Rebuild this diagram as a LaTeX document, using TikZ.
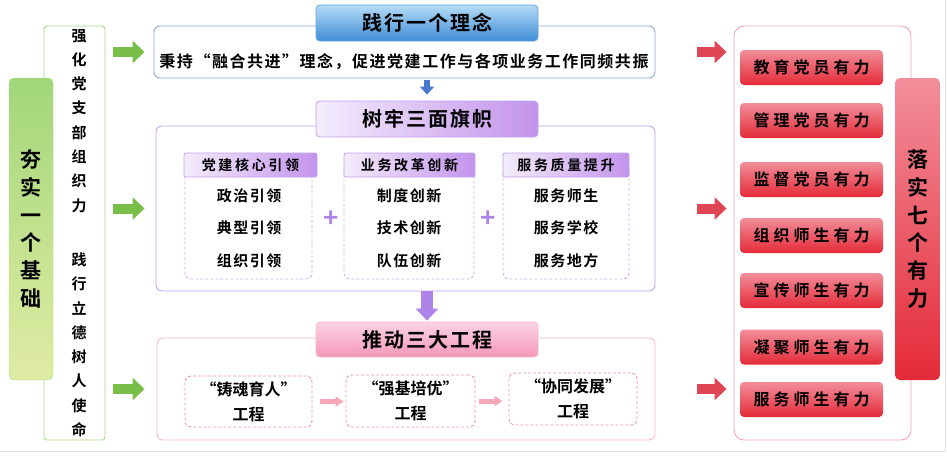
\documentclass[tikz,border=0pt]{standalone}
\usepackage{fontspec}
\setmainfont{Noto Sans CJK SC}
\newfontfamily\kai{Noto Sans CJK SC Bold}
\usetikzlibrary{arrows.meta}

\definecolor{greenline}{HTML}{A6DA86}
\definecolor{greentop}{HTML}{A2D67A}
\definecolor{greenbot}{HTML}{E0ECA4}
\definecolor{greenarrow}{HTML}{79BE48}
\definecolor{bluetop}{HTML}{B6DCF7}
\definecolor{bluebot}{HTML}{3E8CD6}
\definecolor{blueline}{HTML}{8EA8DA}
\definecolor{bluearrow}{HTML}{4779CC}
\definecolor{purpleleft}{HTML}{F4ECFC}
\definecolor{purpleright}{HTML}{C393EC}
\definecolor{purpleline}{HTML}{C1A2F0}
\definecolor{purplearrow}{HTML}{AE84EA}
\definecolor{dashpurple}{HTML}{D7AEF0}
\definecolor{pinktop}{HTML}{FBD3E4}
\definecolor{pinkbot}{HTML}{F497B9}
\definecolor{pinkline}{HTML}{F8BACA}
\definecolor{dashpink}{HTML}{F494AA}
\definecolor{pinkarrow}{HTML}{F6A8B8}
\definecolor{redtop}{HTML}{F28E9A}
\definecolor{redbot}{HTML}{E42A38}
\definecolor{redline}{HTML}{F6A4B0}
\definecolor{redarrow}{HTML}{DE4656}
\definecolor{framegray}{HTML}{E2E2E2}

\tikzset{
  header/.style={rectangle, rounded corners=4pt, minimum width=222, minimum height=36, line width=0.8pt,
    font={\kai\fontsize{20}{24}\selectfont\addfontfeature{LetterSpace=10}}},
  section/.style={rectangle, rounded corners=6pt, draw, line width=0.9pt, fill=white},
  subhead/.style={rectangle, rounded corners=2pt, minimum width=133, minimum height=24, draw=purpleline,
    line width=0.8pt, left color=purpleleft, right color=purpleright,
    font={\kai\fontsize{14}{16}\selectfont\addfontfeature{LetterSpace=19}}},
  dashbox/.style={rectangle, rounded corners=6pt, draw, line width=0.9pt, dash pattern=on 3pt off 2pt},
  item/.style={align=center, font={\kai\fontsize{15}{32.5}\selectfont\addfontfeature{LetterSpace=10}}},
  reditem/.style={rectangle, rounded corners=4pt, minimum width=143, minimum height=35,
    top color=redtop, bottom color=redbot,
    font={\kai\fontsize{16}{18}\selectfont\addfontfeature{LetterSpace=25}}},
  vtext/.style={align=center, font={\kai\fontsize{21}{27.8}\selectfont}},
  fatarrow/.style={line width=10pt, -{Triangle[width=22pt,length=12pt]}},
}

\begin{document}
\begin{tikzpicture}[x=1pt, y=-1pt]
  \useasboundingbox (0,0) rectangle (947,458);
  \draw[framegray] (0,451) -- (945,451) -- (945,0);

  % left side
  \node at (74.5,233) [rectangle, rounded corners=3pt, draw=greenline, line width=0.9pt, fill=white,
    minimum width=61, minimum height=414] (lbox) {};
  \node at (79,233) [align=center, font={\kai\fontsize{15}{24.3}\selectfont}] (ltext)
    {强\\化\\党\\支\\部\\组\\织\\力\\[30pt]践\\行\\立\\德\\树\\人\\使\\命};
  \node at (31,229) [rectangle, rounded corners=5pt, draw=greenline, top color=greentop, bottom color=greenbot,
    minimum width=44, minimum height=302, vtext] (lbase) {夯\\实\\一\\个\\基\\础};

  % section 1
  \node at (404.5,52) [section, draw=blueline, minimum width=501, minimum height=52] (topbox) {};
  \node at (427,23) [header, draw=bluebot!80, top color=bluetop, bottom color=bluebot] (tophead) {践行一个理念};
  \node at (404,62) [font={\kai\fontsize{16}{18}\selectfont\addfontfeature{LetterSpace=9.5}}] (toptext)
    {秉持“融合共进”理念，促进党建工作与各项业务工作同频共振};

  % section 2
  \node at (405.5,208.5) [section, draw=purpleline, minimum width=499, minimum height=165] (midbox) {};
  \node at (427,119) [header, draw=purpleline, left color=purpleleft, right color=purpleright] (midhead) {树牢三面旗帜};
  \node at (248.5,222) [dashbox, draw=dashpurple, minimum width=127, minimum height=114] (d1) {};
  \node at (409,222) [dashbox, draw=dashpurple, minimum width=130, minimum height=114] (d2) {};
  \node at (566,222) [dashbox, draw=dashpurple, minimum width=126, minimum height=114] (d3) {};
  \node at (250.5,165) [subhead] (s1) {党建核心引领};
  \node at (409.5,165) [subhead, minimum width=131] (s2) {业务改革创新};
  \node at (566,165) [subhead, minimum width=126] (s3) {服务质量提升};
  \node at (249,228) [item] (i1) {政治引领\\典型引领\\组织引领};
  \node at (409,228) [item] (i2) {制度创新\\技术创新\\队伍创新};
  \node at (566,228) [item] (i3) {服务师生\\服务学校\\服务地方};
  \node at (331,219) [text=purplearrow, font={\kai\fontsize{26}{26}\selectfont}] (plus1) {+};
  \node at (488,219) [text=purplearrow, font={\kai\fontsize{26}{26}\selectfont}] (plus2) {+};

  % section 3
  \node at (406,389) [section, draw=pinkline, minimum width=498, minimum height=102] (botbox) {};
  \node at (427,339.5) [header, draw=pinkline, top color=pinktop, bottom color=pinkbot, minimum height=35] (bothead) {推动三大工程};
  \node at (248.5,401.5) [dashbox, draw=dashpink, minimum width=127, minimum height=51, align=center,
    font={\kai\fontsize{16}{25}\selectfont}] (b1) {“铸魂育人”\\工程};
  \node at (410.5,401) [dashbox, draw=dashpink, minimum width=129, minimum height=52, align=center,
    font={\kai\fontsize{16}{25}\selectfont}] (b2) {“强基培优”\\工程};
  \node at (573,399) [dashbox, draw=dashpink, minimum width=128, minimum height=52, align=center,
    font={\kai\fontsize{16}{25}\selectfont}] (b3) {“协同发展”\\工程};

  % right side
  \node at (822.5,233) [rectangle, rounded corners=10pt, draw=redline, line width=0.9pt, fill=white,
    minimum width=177, minimum height=414] (rbox) {};
  \node at (811.5,67.5) [reditem] (r1) {教育党员有力};
  \node at (811.5,120.5) [reditem] (r2) {管理党员有力};
  \node at (811.5,179.5) [reditem] (r3) {监督党员有力};
  \node at (811.5,235.5) [reditem] (r4) {组织师生有力};
  \node at (811.5,290.5) [reditem] (r5) {宣传师生有力};
  \node at (811.5,347) [reditem] (r6) {凝聚师生有力};
  \node at (811.5,399.5) [reditem] (r7) {服务师生有力};
  \node at (917.5,229) [rectangle, rounded corners=5pt, top color=redtop, bottom color=redbot,
    minimum width=45, minimum height=302, vtext] (rgoal) {落\\实\\七\\个\\有\\力};

  % arrows
  \draw[fatarrow, greenarrow, shorten <=8pt, shorten >=9pt] (lbox.east |- topbox.west) -- (topbox.west);
  \draw[fatarrow, greenarrow, shorten <=8pt, shorten >=11pt] (lbox.east |- midbox.west) -- (midbox.west);
  \draw[fatarrow, greenarrow, shorten <=8pt, shorten >=12pt] (lbox.east |- botbox.west) -- (botbox.west);
  \draw[fatarrow, redarrow, shorten <=42pt, shorten >=7pt] (topbox.east) -- (topbox.east -| rbox.west);
  \draw[fatarrow, redarrow, shorten <=42pt, shorten >=7pt] (midbox.east) -- (midbox.east -| rbox.west);
  \draw[fatarrow, redarrow, shorten <=42pt, shorten >=7pt] (botbox.east) -- (botbox.east -| rbox.west);
  \draw[line width=6pt, bluearrow, -{Triangle[width=14pt,length=8pt]}, shorten <=2pt, shorten >=6pt]
    (midhead.north |- topbox.south) -- (midhead.north);
  \draw[line width=12pt, purplearrow, -{Triangle[width=22pt,length=12pt]}, shorten <=0pt, shorten >=1pt]
    (bothead.north |- midbox.south) -- (bothead.north);
  \draw[line width=5pt, pinkarrow, -{Triangle[width=10pt,length=8pt]}, shorten <=8pt, shorten >=2pt]
    (b1.east) -- (b1.east -| b2.west);
  \draw[line width=5pt, pinkarrow, -{Triangle[width=10pt,length=8pt]}, shorten <=4pt, shorten >=6pt]
    (b2.east) -- (b2.east -| b3.west);
\end{tikzpicture}
\end{document}
